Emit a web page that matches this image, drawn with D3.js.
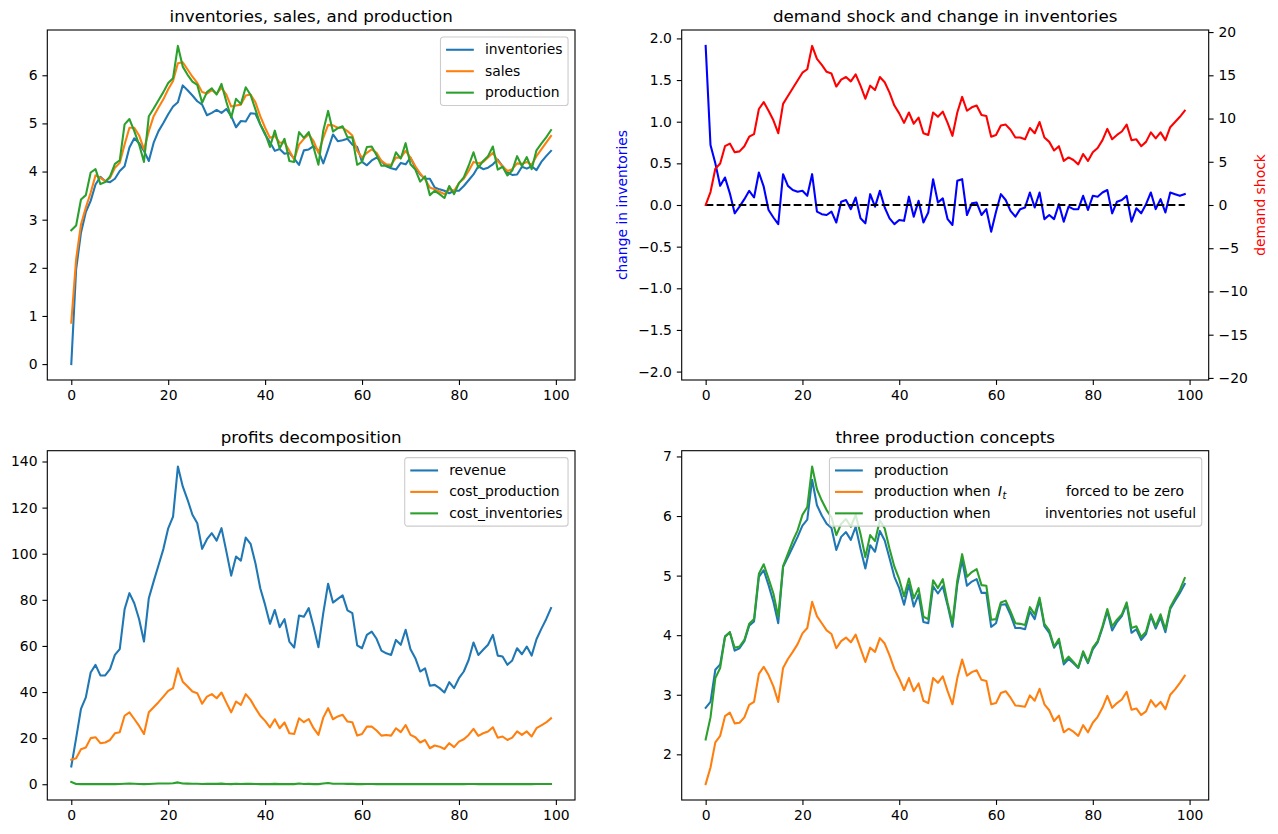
<!DOCTYPE html>
<html>
<head>
<meta charset="utf-8">
<script src="https://cdn.jsdelivr.net/npm/d3@7"></script>
<style>
  body { margin: 0; background: #fff; }
  svg { display: block; font-family: 'DejaVu Sans', sans-serif; }
</style>
</head>
<body>
<div id="chart"></div>
<script>
// values, t = 0..99
const inventories = [
  0.00, 1.97, 2.73, 3.16, 3.39, 3.73, 3.89, 3.80, 3.78, 3.85,
  4.01, 4.11, 4.50, 4.69, 4.59, 4.43, 4.22, 4.60, 4.84, 5.01,
  5.19, 5.35, 5.44, 5.79, 5.69, 5.58, 5.46, 5.39, 5.17, 5.22,
  5.28, 5.22, 5.30, 5.15, 4.92, 5.05, 5.04, 5.21, 5.20, 4.98,
  4.77, 4.61, 4.43, 4.47, 4.37, 4.39, 4.27, 4.14, 4.44, 4.46,
  4.53, 4.43, 4.17, 4.46, 4.77, 4.63, 4.65, 4.68, 4.56, 4.51,
  4.20, 4.13, 4.23, 4.29, 4.22, 4.11, 4.07, 4.04, 4.18, 4.15,
  4.29, 4.08, 3.94, 3.85, 3.85, 3.67, 3.63, 3.60, 3.55, 3.60,
  3.60, 3.70, 3.82, 3.94, 4.11, 4.05, 4.08, 4.15, 4.25, 4.11,
  3.98, 3.93, 3.94, 4.10, 4.06, 4.11, 4.03, 4.20, 4.32, 4.43
];
const sales = [
  0.86, 2.18, 2.90, 3.25, 3.56, 3.92, 3.87, 3.80, 3.87, 4.08,
  4.18, 4.56, 4.91, 4.91, 4.75, 4.46, 4.84, 5.15, 5.33, 5.50,
  5.71, 5.88, 6.25, 6.27, 6.12, 5.97, 5.84, 5.65, 5.62, 5.69,
  5.62, 5.74, 5.60, 5.35, 5.37, 5.39, 5.58, 5.60, 5.44, 5.15,
  4.91, 4.70, 4.74, 4.60, 4.61, 4.43, 4.25, 4.56, 4.68, 4.77,
  4.63, 4.39, 4.70, 4.97, 4.96, 4.91, 4.91, 4.84, 4.75, 4.43,
  4.29, 4.39, 4.46, 4.39, 4.22, 4.15, 4.14, 4.29, 4.29, 4.43,
  4.29, 4.11, 3.96, 3.84, 3.67, 3.63, 3.58, 3.53, 3.63, 3.60,
  3.76, 3.85, 4.01, 4.20, 4.17, 4.20, 4.29, 4.39, 4.22, 4.11,
  4.01, 4.05, 4.17, 4.16, 4.20, 4.14, 4.32, 4.46, 4.60, 4.74
];
const production = [
  2.78, 2.88, 3.42, 3.51, 3.98, 4.05, 3.74, 3.78, 3.90, 4.16,
  4.23, 4.98, 5.09, 4.84, 4.56, 4.20, 5.15, 5.31, 5.48, 5.65,
  5.84, 5.94, 6.61, 6.18, 6.01, 5.87, 5.80, 5.43, 5.65, 5.73,
  5.60, 5.82, 5.45, 5.12, 5.51, 5.40, 5.75, 5.59, 5.29, 4.98,
  4.79, 4.51, 4.85, 4.48, 4.68, 4.22, 4.20, 4.82, 4.70, 4.82,
  4.50, 4.14, 4.85, 5.26, 4.83, 4.90, 4.94, 4.71, 4.71, 4.14,
  4.20, 4.51, 4.52, 4.34, 4.12, 4.12, 4.10, 4.40, 4.27, 4.59,
  4.15, 4.04, 3.79, 3.90, 3.51, 3.60, 3.53, 3.45, 3.70, 3.53,
  3.76, 3.88, 4.12, 4.40, 4.08, 4.22, 4.32, 4.52, 4.04, 4.10,
  3.92, 4.02, 4.32, 4.11, 4.30, 4.05, 4.44, 4.58, 4.71, 4.86
];
const inventoryChange = [
  1.91, 0.72, 0.50, 0.23, 0.33, 0.14, -0.10, -0.02, 0.07, 0.17,
  0.09, 0.39, 0.22, -0.06, -0.15, -0.23, 0.37, 0.23, 0.18, 0.16,
  0.17, 0.11, 0.37, -0.08, -0.11, -0.12, -0.08, -0.21, 0.04, 0.06,
  -0.05, 0.09, -0.16, -0.22, 0.13, -0.02, 0.17, -0.03, -0.16, -0.23,
  -0.18, -0.19, 0.10, -0.14, 0.05, -0.21, -0.09, 0.31, 0.03, 0.08,
  -0.17, -0.24, 0.29, 0.31, -0.12, 0.02, 0.03, -0.12, -0.05, -0.32,
  -0.08, 0.13, 0.06, -0.07, -0.14, -0.05, -0.03, 0.15, -0.03, 0.15,
  -0.17, -0.12, -0.17, 0.01, -0.20, -0.02, -0.05, -0.05, 0.11, -0.06,
  0.11, 0.10, 0.15, 0.18, -0.10, 0.04, 0.06, 0.11, -0.20, -0.04,
  -0.10, 0.01, 0.15, -0.05, 0.07, -0.09, 0.15, 0.13, 0.11, 0.13
];
const demandShock = [
  0.0, 1.5, 4.2, 4.8, 6.8, 7.1, 6.1, 6.2, 6.8, 7.9,
  8.2, 11.1, 11.9, 10.9, 9.8, 8.3, 11.7, 12.6, 13.5, 14.4,
  15.3, 15.7, 18.4, 16.9, 16.2, 15.4, 15.2, 13.7, 14.5, 14.8,
  14.3, 15.1, 13.8, 12.3, 13.8, 13.3, 14.8, 14.2, 13.0, 11.5,
  10.6, 9.5, 10.7, 9.4, 10.1, 8.3, 8.1, 10.7, 10.2, 10.8,
  9.5, 8.0, 10.7, 12.5, 10.9, 11.3, 11.5, 10.4, 10.3, 7.9,
  8.1, 9.2, 9.3, 8.7, 7.8, 7.8, 7.6, 8.9, 8.3, 9.6,
  7.8, 7.3, 6.3, 6.8, 5.1, 5.5, 5.2, 4.7, 5.9, 5.1,
  6.1, 6.6, 7.5, 8.8, 7.6, 8.1, 8.5, 9.3, 7.5, 7.6,
  6.8, 7.3, 8.4, 7.7, 8.4, 7.5, 9.0, 9.6, 10.2, 10.9
];
const revenue = [
  7.7, 20.0, 32.7, 37.7, 48.5, 51.8, 47.2, 47.2, 49.9, 56.1,
  58.6, 75.9, 82.9, 78.5, 71.6, 61.9, 80.7, 88.0, 95.0, 102.0,
  111.0, 116.1, 137.8, 129.2, 123.4, 116.9, 113.2, 102.1, 106.3, 108.9,
  105.7, 111.1, 101.0, 90.5, 98.8, 97.0, 107.0, 104.3, 95.9, 85.0,
  77.8, 69.6, 75.6, 68.1, 71.6, 61.9, 59.3, 73.2, 72.7, 76.4,
  68.4, 59.4, 74.2, 87.0, 78.8, 80.4, 81.9, 75.4, 74.2, 60.2,
  59.0, 64.8, 66.2, 63.1, 58.0, 56.8, 56.1, 62.6, 60.5, 67.0,
  58.6, 54.7, 48.9, 50.3, 42.7, 43.1, 41.7, 39.8, 44.3, 41.7,
  46.0, 48.9, 53.9, 61.5, 56.1, 58.3, 60.5, 64.8, 55.8, 55.4,
  51.8, 53.7, 59.0, 56.4, 59.7, 55.8, 62.9, 67.4, 71.6, 76.4
];
const costProduction = [
  10.6, 11.3, 15.2, 15.9, 20.0, 20.4, 17.8, 18.1, 19.2, 22.1,
  22.6, 29.7, 31.2, 28.3, 25.3, 21.8, 31.2, 33.4, 35.6, 38.0,
  40.5, 41.7, 50.3, 44.5, 42.4, 40.2, 39.5, 34.9, 38.0, 39.1,
  37.3, 39.8, 35.4, 31.2, 35.9, 34.4, 39.1, 36.6, 33.0, 29.7,
  27.5, 24.7, 28.2, 24.3, 26.8, 22.1, 21.8, 28.6, 26.9, 28.3,
  24.3, 21.4, 28.9, 33.0, 28.2, 29.4, 30.1, 27.2, 26.9, 21.1,
  21.8, 25.0, 25.0, 23.3, 21.1, 21.4, 21.1, 24.3, 22.6, 25.7,
  21.4, 20.4, 18.1, 19.2, 15.6, 16.8, 16.3, 15.3, 17.8, 16.1,
  18.5, 19.5, 21.4, 24.0, 21.0, 22.1, 22.9, 24.7, 20.2, 20.7,
  19.2, 20.2, 22.9, 21.4, 22.9, 20.7, 24.3, 25.5, 26.8, 28.6
];
const costInventories = [
  1.0, 0.1, 0.05, 0.05, 0.1, 0.05, 0.05, 0.05, 0.05, 0.05,
  0.1, 0.2, 0.3, 0.2, 0.1, 0.05, 0.1, 0.2, 0.3, 0.3,
  0.35, 0.4, 0.8, 0.3, 0.25, 0.2, 0.2, 0.1, 0.15, 0.2,
  0.15, 0.25, 0.1, 0.05, 0.2, 0.1, 0.2, 0.15, 0.1, 0.05,
  0.05, 0.05, 0.15, 0.05, 0.1, 0.05, 0.05, 0.3, 0.1, 0.15,
  0.05, 0.05, 0.3, 0.5, 0.2, 0.2, 0.2, 0.15, 0.15, 0.05,
  0.05, 0.1, 0.1, 0.05, 0.05, 0.05, 0.05, 0.1, 0.05, 0.1,
  0.05, 0.05, 0.05, 0.05, 0.05, 0.05, 0.05, 0.05, 0.05, 0.05,
  0.05, 0.05, 0.1, 0.1, 0.05, 0.05, 0.05, 0.05, 0.05, 0.05,
  0.05, 0.05, 0.1, 0.05, 0.05, 0.05, 0.1, 0.1, 0.1, 0.1
];
const productionZeroInventory = [
  1.50, 1.78, 2.20, 2.31, 2.64, 2.70, 2.52, 2.53, 2.62, 2.83,
  2.88, 3.35, 3.47, 3.33, 3.14, 2.88, 3.45, 3.60, 3.72, 3.85,
  4.03, 4.12, 4.56, 4.32, 4.20, 4.08, 4.02, 3.78, 3.90, 3.96,
  3.88, 4.01, 3.78, 3.55, 3.79, 3.72, 3.95, 3.86, 3.66, 3.43,
  3.27, 3.08, 3.28, 3.06, 3.19, 2.90, 2.86, 3.28, 3.20, 3.31,
  3.06, 2.84, 3.28, 3.59, 3.32, 3.38, 3.41, 3.25, 3.23, 2.84,
  2.86, 3.03, 3.06, 2.95, 2.82, 2.81, 2.80, 2.99, 2.90, 3.10,
  2.84, 2.74, 2.56, 2.65, 2.37, 2.43, 2.38, 2.31, 2.49, 2.37,
  2.53, 2.63, 2.78, 2.98, 2.78, 2.86, 2.92, 3.05, 2.75, 2.77,
  2.66, 2.72, 2.91, 2.80, 2.88, 2.76, 3.00, 3.09, 3.20, 3.32
];
const productionNoInventoryUse = [
  2.25, 2.62, 3.28, 3.45, 3.97, 4.05, 3.79, 3.81, 3.92, 4.19,
  4.27, 5.03, 5.19, 4.95, 4.70, 4.31, 5.16, 5.37, 5.58, 5.76,
  6.02, 6.15, 6.83, 6.45, 6.26, 6.10, 5.98, 5.68, 5.87, 5.95,
  5.82, 6.02, 5.70, 5.31, 5.68, 5.58, 5.93, 5.79, 5.45, 5.15,
  4.94, 4.65, 4.95, 4.62, 4.79, 4.31, 4.27, 4.92, 4.79, 4.94,
  4.54, 4.20, 4.92, 5.36, 4.98, 5.06, 5.11, 4.84, 4.83, 4.26,
  4.27, 4.55, 4.58, 4.40, 4.20, 4.19, 4.17, 4.47, 4.35, 4.63,
  4.19, 4.08, 3.81, 3.94, 3.55, 3.64, 3.55, 3.46, 3.73, 3.55,
  3.79, 3.90, 4.15, 4.44, 4.15, 4.26, 4.35, 4.55, 4.12, 4.15,
  3.97, 4.06, 4.35, 4.15, 4.35, 4.10, 4.47, 4.62, 4.76, 4.96
];

const xTicks = [0, 20, 40, 60, 80, 100];
const inventoryTicks = [0, 1, 2, 3, 4, 5, 6];
const changeTicks = [-2, -1.5, -1, -0.5, 0, 0.5, 1, 1.5, 2];
const shockTicks = [-20, -15, -10, -5, 0, 5, 10, 15, 20];
const profitTicks = [0, 20, 40, 60, 80, 100, 120, 140];
const conceptTicks = [2, 3, 4, 5, 6, 7];

const tab = { blue: '#1f77b4', orange: '#ff7f0e', green: '#2ca02c' };

const chart = {
  width: 1278,
  height: 834,
  fontSize: 13.9,
  titleSize: 16.7,
  lineWidth: 2.08,
  tickLength: 4.9,
  tickPadding: 4.9,

  init() {
    this.svg = d3.select('#chart').append('svg')
      .attr('width', this.width)
      .attr('height', this.height);
    this.svg.append('rect')
      .attr('width', this.width)
      .attr('height', this.height)
      .attr('fill', '#fff');

    this.drawInventories();
    this.drawDemandShock();
    this.drawProfits();
    this.drawConcepts();
  },

  // matplotlib style autoscale with 5% margins
  padded(seriesList) {
    const [lo, hi] = d3.extent(seriesList.flat());
    const m = (hi - lo) * 0.05;
    return [lo - m, hi + m];
  },

  xDomain() {
    const n = inventories.length - 1;
    return [-n * 0.05, n * 1.05];
  },

  createAxes(box, yDomain, title) {
    const g = this.svg.append('g')
      .attr('transform', `translate(${box.left},${box.top})`);
    const x = d3.scaleLinear().domain(this.xDomain()).range([0, box.width]);
    const y = d3.scaleLinear().domain(yDomain).range([box.height, 0]);
    const lines = g.append('g');
    const axes = g.append('g');
    const legend = g.append('g');

    g.append('text')
      .attr('x', box.width / 2)
      .attr('y', -8)
      .attr('text-anchor', 'middle')
      .attr('font-size', this.titleSize)
      .attr('fill', '#000')
      .text(title);

    return { g, x, y, box, lines, axes, legend };
  },

  styleAxis(sel) {
    sel.select('.domain').remove();
    sel.selectAll('line').attr('stroke', '#000').attr('stroke-width', 1.1);
    sel.selectAll('text')
      .attr('font-size', this.fontSize)
      .attr('font-family', 'DejaVu Sans, sans-serif')
      .attr('fill', '#000');
  },

  drawFrame(ax, yTicks, yFormat) {
    const xAxis = d3.axisBottom(ax.x)
      .tickValues(xTicks)
      .tickSize(this.tickLength)
      .tickPadding(this.tickPadding)
      .tickFormat(d3.format('d'));
    ax.axes.append('g')
      .attr('transform', `translate(0,${ax.box.height})`)
      .call(xAxis)
      .call((s) => this.styleAxis(s));

    const yAxis = d3.axisLeft(ax.y)
      .tickValues(yTicks)
      .tickSize(this.tickLength)
      .tickPadding(this.tickPadding)
      .tickFormat(d3.format(yFormat));
    ax.axes.append('g')
      .call(yAxis)
      .call((s) => this.styleAxis(s));

    ax.axes.append('rect')
      .attr('width', ax.box.width)
      .attr('height', ax.box.height)
      .attr('fill', 'none')
      .attr('stroke', '#000')
      .attr('stroke-width', 1.1);
  },

  drawSeries(ax, values, color, y, dash) {
    const scaleY = y || ax.y;
    const line = d3.line()
      .x((d, i) => ax.x(i))
      .y((d) => scaleY(d));
    ax.lines.append('path')
      .datum(values)
      .attr('d', line)
      .attr('fill', 'none')
      .attr('stroke', color)
      .attr('stroke-width', this.lineWidth)
      .attr('stroke-linejoin', 'round')
      .attr('stroke-linecap', dash ? 'butt' : 'square')
      .attr('stroke-dasharray', dash || null);
  },

  // entries: { color, parts: [{ text, dx, math }] }
  drawLegend(ax, entries) {
    const fs = this.fontSize;
    const pad = 0.4 * fs;
    const handle = 2 * fs;
    const textPad = 0.8 * fs;
    const rowH = 14.5;
    const rowGap = 0.5 * fs;
    const border = 0.5 * fs;
    const lg = ax.legend;

    const frame = lg.append('rect');
    const rows = entries.map((entry, i) => {
      const row = lg.append('g');
      const cy = pad + rowH / 2 + i * (rowH + rowGap);
      let end = 0;
      row.append('line')
        .attr('x1', pad)
        .attr('x2', pad + handle)
        .attr('y1', cy)
        .attr('y2', cy)
        .attr('stroke', entry.color)
        .attr('stroke-width', this.lineWidth);
      entry.parts.forEach((part) => {
        const x0 = pad + handle + textPad + (part.dx || 0);
        if (part.math) {
          const t = row.append('text')
            .attr('x', x0)
            .attr('y', cy + 4.5)
            .attr('font-size', fs)
            .attr('font-style', 'italic')
            .attr('fill', '#000');
          t.append('tspan').text(part.math[0]);
          t.append('tspan')
            .attr('dy', 3)
            .attr('dx', 0.5)
            .attr('font-size', fs * 0.7)
            .text(part.math[1]);
          end = Math.max(end, (part.dx || 0) + t.node().getComputedTextLength());
        } else {
          const t = row.append('text')
            .attr('x', x0)
            .attr('y', cy + 4.5)
            .attr('font-size', fs)
            .attr('fill', '#000')
            .text(part.text);
          end = Math.max(end, (part.dx || 0) + t.node().getComputedTextLength());
        }
      });
      return { row, end };
    });

    const width = pad + handle + textPad + d3.max(rows, (r) => r.end) + pad;
    const height = 2 * pad + entries.length * rowH + (entries.length - 1) * rowGap;
    lg.attr('transform', `translate(${ax.box.width - border - width},${border})`);
    frame
      .attr('width', width)
      .attr('height', height)
      .attr('rx', 2.8)
      .attr('fill', 'rgba(255,255,255,0.8)')
      .attr('stroke', '#cccccc')
      .attr('stroke-width', 1.1);
  },

  drawInventories() {
    const ax = this.createAxes(
      { left: 47.3, top: 30, width: 527.7, height: 350 },
      this.padded([inventories, sales, production]),
      'inventories, sales, and production'
    );
    this.drawSeries(ax, inventories, tab.blue);
    this.drawSeries(ax, sales, tab.orange);
    this.drawSeries(ax, production, tab.green);
    this.drawFrame(ax, inventoryTicks, 'd');
    this.drawLegend(ax, [
      { color: tab.blue, parts: [{ text: 'inventories' }] },
      { color: tab.orange, parts: [{ text: 'sales' }] },
      { color: tab.green, parts: [{ text: 'production' }] }
    ]);
  },

  drawDemandShock() {
    const maxChange = d3.max(inventoryChange, Math.abs) * 1.1;
    const ax = this.createAxes(
      { left: 681.7, top: 30, width: 527, height: 350 },
      [-maxChange, maxChange],
      'demand shock and change in inventories'
    );
    const maxShock = d3.max(demandShock, Math.abs) * 1.1;
    const yShock = d3.scaleLinear()
      .domain([-maxShock, maxShock])
      .range([ax.box.height, 0]);

    this.drawSeries(ax, inventoryChange, '#0000ff');
    this.drawSeries(ax, inventoryChange.map(() => 0), '#000', null, '7.7,3.3');
    this.drawSeries(ax, demandShock, '#ff0000', yShock);
    this.drawFrame(ax, changeTicks, '.1f');

    const rightAxis = d3.axisRight(yShock)
      .tickValues(shockTicks)
      .tickSize(this.tickLength)
      .tickPadding(this.tickPadding)
      .tickFormat(d3.format('d'));
    ax.axes.append('g')
      .attr('transform', `translate(${ax.box.width},0)`)
      .call(rightAxis)
      .call((s) => this.styleAxis(s));

    ax.axes.append('text')
      .attr('transform', `translate(-54.7,${ax.box.height / 2}) rotate(-90)`)
      .attr('text-anchor', 'middle')
      .attr('font-size', this.fontSize)
      .attr('fill', '#0000ff')
      .text('change in inventories');
    ax.axes.append('text')
      .attr('transform', `translate(${ax.box.width + 56},${ax.box.height / 2}) rotate(-90)`)
      .attr('text-anchor', 'middle')
      .attr('font-size', this.fontSize)
      .attr('fill', '#ff0000')
      .text('demand shock');
  },

  drawProfits() {
    const ax = this.createAxes(
      { left: 47.3, top: 450.7, width: 527.7, height: 349.3 },
      this.padded([revenue, costProduction, costInventories]),
      'profits decomposition'
    );
    this.drawSeries(ax, revenue, tab.blue);
    this.drawSeries(ax, costProduction, tab.orange);
    this.drawSeries(ax, costInventories, tab.green);
    this.drawFrame(ax, profitTicks, 'd');
    this.drawLegend(ax, [
      { color: tab.blue, parts: [{ text: 'revenue' }] },
      { color: tab.orange, parts: [{ text: 'cost_production' }] },
      { color: tab.green, parts: [{ text: 'cost_inventories' }] }
    ]);
  },

  drawConcepts() {
    const ax = this.createAxes(
      { left: 681.7, top: 450.7, width: 527, height: 349.3 },
      this.padded([production, productionZeroInventory, productionNoInventoryUse]),
      'three production concepts'
    );
    this.drawSeries(ax, production, tab.blue);
    this.drawSeries(ax, productionZeroInventory, tab.orange);
    this.drawSeries(ax, productionNoInventoryUse, tab.green);
    this.drawFrame(ax, conceptTicks, 'd');
    this.drawLegend(ax, [
      { color: tab.blue, parts: [{ text: 'production' }] },
      { color: tab.orange, parts: [
        { text: 'production when' },
        { math: ['I', 't'], dx: 124 },
        { text: 'forced to be zero', dx: 192 }
      ] },
      { color: tab.green, parts: [
        { text: 'production when' },
        { text: 'inventories not useful', dx: 171 }
      ] }
    ]);
  }
};

chart.init();
</script>
</body>
</html>
